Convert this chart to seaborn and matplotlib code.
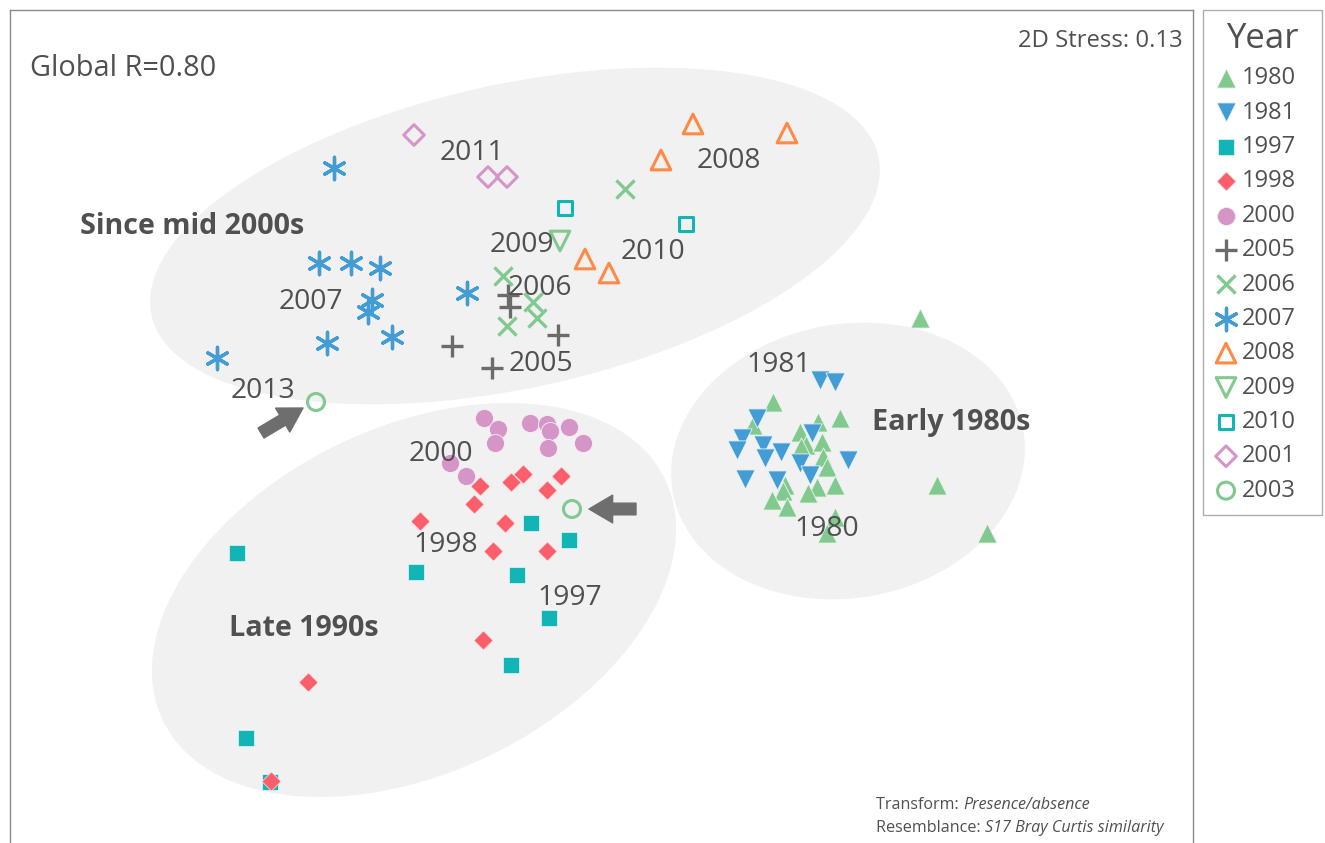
import numpy as np
import pandas as pd
import matplotlib
matplotlib.use("Agg")
import matplotlib.pyplot as plt
import seaborn as sns
from matplotlib.patches import Ellipse

sns.set_theme(style="white")
plt.rcParams["font.family"] = ["Open Sans", "DejaVu Sans"]

# ---- nMDS ordination coordinates (arbitrary units; y axis points down) ----
x_1980 = [773, 753, 818, 840, 800, 806, 801, 822, 823, 827, 785, 783, 817, 835, 808, 772, 787, 835, 827, 920, 937, 987]
y_1980 = [402, 425, 422, 418, 432, 445, 447, 442, 457, 467, 485, 491, 487, 485, 493, 500, 507, 517, 533, 318, 485, 533]
x_1981 = [820, 835, 757, 742, 737, 763, 781, 765, 812, 800, 810, 848, 745, 777]
y_1981 = [380, 382, 418, 438, 450, 445, 452, 458, 433, 463, 475, 460, 479, 480]
x_1997 = [237, 416, 531, 569, 517, 549, 511, 246, 270]
y_1997 = [553, 572, 523, 540, 575, 618, 665, 738, 782]
x_1998 = [480, 511, 523, 561, 547, 474, 420, 505, 493, 547, 483, 308, 271]
y_1998 = [486, 482, 474, 476, 490, 504, 521, 523, 551, 551, 640, 682, 781]
x_2000 = [484, 498, 495, 530, 547, 550, 569, 548, 583, 450, 466]
y_2000 = [418, 429, 443, 423, 424, 431, 427, 448, 443, 463, 476]
x_2005 = [508, 510, 558, 452, 492]
y_2005 = [295, 307, 335, 346, 368]
x_2006 = [625, 503, 533, 537, 507]
y_2006 = [189, 276, 302, 318, 326]
x_2007 = [334, 319, 351, 380, 372, 368, 392, 327, 217, 467]
y_2007 = [168, 263, 263, 268, 300, 312, 337, 343, 358, 293]
x_2008 = [693, 787, 661, 585, 609]
y_2008 = [124, 133, 160, 259, 273]
x_2009 = [560]
y_2009 = [241]
x_2010 = [565, 686]
y_2010 = [208, 224]
x_2001 = [414, 488, 507]
y_2001 = [135, 177, 177]
x_2003 = [316, 572]
y_2003 = [402, 509]

years = ["1980", "1981", "1997", "1998", "2000", "2005", "2006", "2007",
         "2008", "2009", "2010", "2001", "2003"]
xs = [x_1980, x_1981, x_1997, x_1998, x_2000, x_2005, x_2006, x_2007,
      x_2008, x_2009, x_2010, x_2001, x_2003]
ys = [y_1980, y_1981, y_1997, y_1998, y_2000, y_2005, y_2006, y_2007,
      y_2008, y_2009, y_2010, y_2001, y_2003]

point_labels = ["2011", "2008", "2009", "2010", "2006", "2007", "2005", "2013",
                "2000", "1998", "1997", "1981", "1980"]
group_labels = ["Since mid 2000s", "Late 1990s", "Early 1980s"]

# ---- styles ----
GREEN = "#82C98F"
BLUE = "#439CD3"
TEAL = "#12B5B5"
RED = "#FC5F6B"
PINK = "#D596C7"
GRAY = "#6B6B6B"
ORANGE = "#FF8A45"
styles = {
    "1980": dict(marker="^", s=190, color=GREEN, edgecolor="#eef7ef", linewidth=0.6),
    "1981": dict(marker="v", s=190, color=BLUE, edgecolor="#e9f3fa", linewidth=0.6),
    "1997": dict(marker="s", s=120, color=TEAL, edgecolor="#e6f7f7", linewidth=0.5),
    "1998": dict(marker="D", s=95, color=RED, edgecolor="#fdecee", linewidth=0.5),
    "2000": dict(marker="o", s=170, color=PINK, edgecolor="#f8eef6", linewidth=0.6),
    "2005": dict(marker="+", s=260, color=GRAY, linewidth=2.4),
    "2006": dict(marker="x", s=170, color=GREEN, linewidth=2.4),
    "2007": dict(marker=(6, 2, 0), s=260, color=BLUE, linewidth=2.4),
    "2008": dict(marker="^", s=200, color=ORANGE, facecolor="none", edgecolor=ORANGE, linewidth=2.2),
    "2009": dict(marker="v", s=200, color=GREEN, facecolor="none", edgecolor=GREEN, linewidth=2.2),
    "2010": dict(marker="s", s=110, color=TEAL, facecolor="none", edgecolor=TEAL, linewidth=2.2),
    "2001": dict(marker="D", s=110, color=PINK, facecolor="none", edgecolor=PINK, linewidth=2.2),
    "2003": dict(marker="o", s=150, color=GREEN, facecolor="none", edgecolor=GREEN, linewidth=2.2),
}

TXT = "#505050"

fig = plt.figure(figsize=(13.25, 8.43), dpi=100)
ax = fig.add_axes([10 / 1325, 0, 1183 / 1325, 833 / 843])
ax.set_xlim(10, 1193)
ax.set_ylim(843, 10)
ax.set_xticks([])
ax.set_yticks([])
for side in ["top", "left", "right"]:
    ax.spines[side].set_color("#8a8a8a")
    ax.spines[side].set_linewidth(1.0)
ax.spines["bottom"].set_visible(False)

# cluster ellipses
ell_fc = "#F1F1F1"
ax.add_patch(Ellipse((515, 236), 744, 304, angle=-12.3, facecolor=ell_fc, edgecolor="none", zorder=0))
ax.add_patch(Ellipse((414, 600), 557, 346, angle=-25.6, facecolor=ell_fc, edgecolor="none", zorder=0))
ax.add_patch(Ellipse((848, 461), 356, 274, angle=-10, facecolor=ell_fc, edgecolor="none", zorder=0))

for yr, xv, yv in zip(years, xs, ys):
    sns.scatterplot(x=xv, y=yv, ax=ax, label=yr, zorder=3, **styles[yr])

# point-group labels
label_pos = [(440, 153), (697, 161), (490, 245), (621, 252), (508, 288), (279, 302),
             (509, 364), (231, 391), (409, 454), (413, 545), (537, 598), (746, 365),
             (794, 529)]
for t, (px, py) in zip(point_labels, label_pos):
    ax.text(px, py, t, fontsize=20.3, color=TXT, ha="left", va="center", zorder=4)

group_pos = [(80, 226), (229, 629), (872, 422)]
for t, (px, py) in zip(group_labels, group_pos):
    ax.text(px, py, t, fontsize=20.6, fontweight="bold", color=TXT, ha="left", va="center", zorder=4)

# arrows
arrow_kw = dict(arrowstyle="simple,head_length=0.85,head_width=1.0,tail_width=0.42",
                color="#6E6E6E", shrinkA=0, shrinkB=0, mutation_scale=20)
ax.annotate("", xy=(303, 408), xytext=(261, 433), arrowprops=arrow_kw, zorder=4)
ax.annotate("", xy=(589, 509), xytext=(636, 509), arrowprops=arrow_kw, zorder=4)

# annotations
ax.text(30, 68, "Global R=0.80", fontsize=20.8, color=TXT, ha="left", va="center")
ax.text(1183, 41, "2D Stress: 0.13", fontsize=17.2, color=TXT, ha="right", va="center")
t1 = ax.text(876, 805, "Transform: ", fontsize=11.6, color=TXT, ha="left", va="center")
ax.annotate("Presence/absence", xy=(1, 0.5), xycoords=t1, fontsize=11.6, color=TXT,
            style="italic", ha="left", va="center")
t2 = ax.text(876, 828, "Resemblance: ", fontsize=11.6, color=TXT, ha="left", va="center")
ax.annotate("S17 Bray Curtis similarity", xy=(1, 0.5), xycoords=t2, fontsize=11.6, color=TXT,
            style="italic", ha="left", va="center")

# legend
handles, labels = ax.get_legend_handles_labels()
if ax.get_legend() is not None:
    ax.get_legend().remove()
leg = fig.legend(handles, labels, loc="upper left",
                 bbox_to_anchor=(1203 / 1325, 1 - 10 / 843, 119 / 1325, 0.0),
                 mode="expand", frameon=True, fancybox=False, edgecolor="#999999",
                 title="Year", fontsize=17, title_fontsize=25, labelspacing=0.44,
                 handletextpad=0.2, handlelength=0.95, borderpad=0.5, borderaxespad=0,
                 scatterpoints=1, labelcolor=TXT)
leg.get_title().set_color(TXT)
leg.get_frame().set_linewidth(1.0)

fig.savefig("out.png", dpi=100)
